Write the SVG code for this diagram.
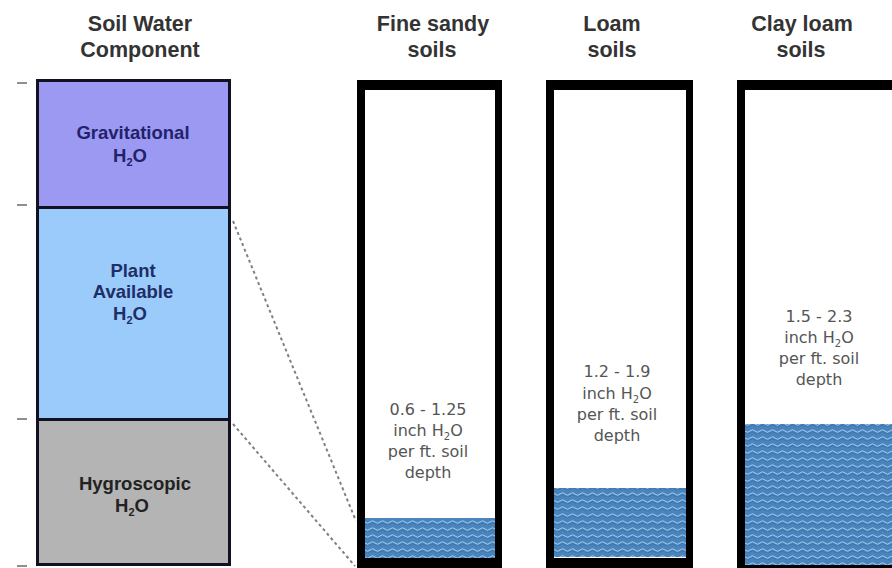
<svg xmlns="http://www.w3.org/2000/svg" width="892" height="568" viewBox="0 0 892 568">
<defs>
<style>
.hdr{font-family:"Liberation Sans",Arial,sans-serif;font-weight:bold;font-size:21.5px;fill:#333;text-anchor:middle}
.lbl{font-family:"Liberation Sans",Arial,sans-serif;font-weight:bold;font-size:18.5px;text-anchor:middle}
.val{font-family:"DejaVu Sans",sans-serif;font-size:16px;fill:#555;text-anchor:middle}
.band{stroke:#111122;stroke-width:3}
.dash{stroke:#808080;stroke-width:2;stroke-dasharray:3 3;fill:none}
.tick{stroke:#444;stroke-width:1.2}
</style>
<pattern id="water" width="10" height="7" patternUnits="userSpaceOnUse">
<rect width="10" height="7" fill="#4a84bd"/>
<path d="M0,4 Q2.5,1.5 5,4 T10,4" stroke="#a6cdee" stroke-width="1" fill="none"/>
<path d="M0,6 Q2.5,3.5 5,6 T10,6" stroke="#2f6aa3" stroke-width="0.6" fill="none"/>
</pattern>
</defs>
<rect width="892" height="568" fill="#fff"/>

<g id="headers">
<text class="hdr" x="140" y="31">Soil Water</text>
<text class="hdr" x="140" y="57">Component</text>
<text class="hdr" x="433" y="31">Fine sandy</text>
<text class="hdr" x="432" y="57">soils</text>
<text class="hdr" x="612" y="31">Loam</text>
<text class="hdr" x="612" y="57">soils</text>
<text class="hdr" x="802" y="31">Clay loam</text>
<text class="hdr" x="801" y="57">soils</text>
</g>

<g id="ticks">
<line class="tick" x1="17" y1="83" x2="27" y2="83"/>
<line class="tick" x1="17" y1="205" x2="27" y2="205"/>
<line class="tick" x1="17" y1="419" x2="27" y2="419"/>
<line class="tick" x1="17" y1="566" x2="27" y2="566"/>
</g>

<g id="gravitational">
<rect class="band" x="37.5" y="80.5" width="192" height="127" fill="#9c99f2"/>
<text class="lbl" x="133" y="139" fill="#22226a">Gravitational</text>
<text class="lbl" x="130" y="162" fill="#22226a">H<tspan font-size="11" dy="4">2</tspan><tspan dy="-4">O</tspan></text>
</g>

<g id="plant-available">
<rect class="band" x="37.5" y="207.5" width="192" height="212" fill="#9acbfb"/>
<text class="lbl" x="133" y="277" fill="#1e2e66">Plant</text>
<text class="lbl" x="133" y="298" fill="#1e2e66">Available</text>
<text class="lbl" x="130" y="320" fill="#1e2e66">H<tspan font-size="11" dy="4">2</tspan><tspan dy="-4">O</tspan></text>
</g>

<g id="hygroscopic">
<rect class="band" x="37.5" y="419.5" width="192" height="145" fill="#b4b4b4"/>
<text class="lbl" x="135" y="490" fill="#222">Hygroscopic</text>
<text class="lbl" x="132" y="512" fill="#222">H<tspan font-size="11" dy="4">2</tspan><tspan dy="-4">O</tspan></text>
</g>

<g id="connectors">
<line class="dash" x1="233" y1="221" x2="356" y2="521"/>
<line class="dash" x1="233" y1="424" x2="355" y2="566"/>
</g>

<g id="fine-sandy">
<rect x="357" y="80" width="145" height="488" fill="#000"/>
<rect x="365" y="90" width="130" height="468" fill="#fff"/>
<rect x="365" y="518" width="130" height="40" fill="url(#water)"/>
<text class="val" x="428" y="415">0.6 - 1.25</text>
<text class="val" x="428" y="436">inch H<tspan font-size="10" dy="4">2</tspan><tspan dy="-4">O</tspan></text>
<text class="val" x="428" y="457">per ft. soil</text>
<text class="val" x="428" y="478">depth</text>
</g>

<g id="loam">
<rect x="546" y="80" width="147" height="488" fill="#000"/>
<rect x="554" y="90" width="132" height="468" fill="#fff"/>
<rect x="554" y="488" width="132" height="69" fill="url(#water)"/>
<text class="val" x="617" y="377">1.2 - 1.9</text>
<text class="val" x="617" y="399">inch H<tspan font-size="10" dy="4">2</tspan><tspan dy="-4">O</tspan></text>
<text class="val" x="617" y="420">per ft. soil</text>
<text class="val" x="617" y="441">depth</text>
</g>

<g id="clay-loam">
<rect x="737" y="80" width="160" height="488" fill="#000"/>
<rect x="745" y="90" width="150" height="475" fill="#fff"/>
<rect x="745" y="424" width="150" height="141" fill="url(#water)"/>
<text class="val" x="819" y="322">1.5 - 2.3</text>
<text class="val" x="819" y="343">inch H<tspan font-size="10" dy="4">2</tspan><tspan dy="-4">O</tspan></text>
<text class="val" x="819" y="364">per ft. soil</text>
<text class="val" x="819" y="385">depth</text>
</g>
</svg>
